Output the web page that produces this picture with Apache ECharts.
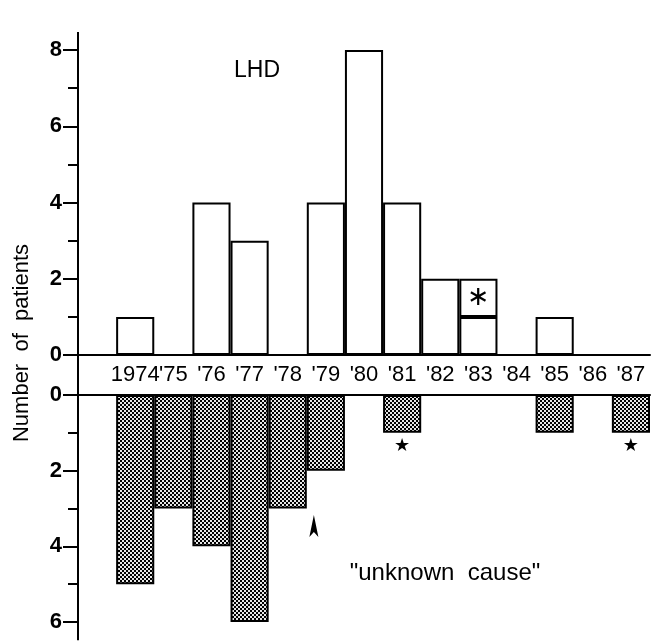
<!DOCTYPE html>
<html>
<head>
<meta charset="utf-8">
<script src="https://cdn.jsdelivr.net/npm/echarts@6/dist/echarts.min.js"></script>
<style>
html,body{margin:0;padding:0;background:#fff;}
#chart{width:651px;height:643px;}
</style>
</head>
<body>
<div id="chart"></div>
<script>
// years on the x axis (a blank slot sits before 1974 in the original)
var years = ['1974', "'75", "'76", "'77", "'78", "'79", "'80", "'81", "'82", "'83", "'84", "'85", "'86", "'87"];
// LHD cases (upper panel); the asterisk cases are stacked on top
var lhd = [1, 0, 4, 3, 0, 4, 8, 4, 2, 1, 0, 1, 0, 0];
var lhdAsterisk = [0, 0, 0, 0, 0, 0, 0, 0, 0, 1, 0, 0, 0, 0];
// "unknown cause" cases (lower panel, drawn downward)
var unknown = [5, 3, 4, 6, 3, 2, 0, 1, 0, 0, 0, 1, 0, 1];
var unknownStarred = ["'81", "'87"];
var upperTicks = [0, 8, 2];   // min, max, interval
var lowerTicks = [0, 6, 2];

var GRID_LEFT = 78;
var cats = [''].concat(years);

// checkered fill for the lower bars
var pat = document.createElement('canvas');
pat.width = 4; pat.height = 4;
var ctx = pat.getContext('2d');
ctx.fillStyle = '#e6e6e6'; ctx.fillRect(0, 0, 4, 4);
ctx.fillStyle = '#000'; ctx.fillRect(0, 0, 2, 2); ctx.fillRect(2, 2, 2, 2);

function yAxisOf(grid, t, inverse) {
    return {
        type: 'value', gridIndex: grid, min: t[0], max: t[1], interval: t[2], inverse: inverse,
        axisLine: {show: false},
        axisTick: {show: true, length: 15, lineStyle: {color: '#000', width: 2}},
        minorTick: {show: true, splitNumber: 2, length: 10, lineStyle: {color: '#000', width: 2}},
        splitLine: {show: false},
        axisLabel: {color: '#000', fontSize: 22, fontWeight: 'bold', fontFamily: 'Liberation Sans', margin: 16}
    };
}

var chart = echarts.init(document.getElementById('chart'));
var option = {
    animation: false,
    grid: [
        {left: GRID_LEFT, right: 1, top: 50, height: 305},
        {left: GRID_LEFT, right: 1, top: 395, height: 227}
    ],
    xAxis: [
        {type: 'category', gridIndex: 0, data: cats,
         axisLine: {lineStyle: {color: '#000', width: 2}}, axisTick: {show: false},
         axisLabel: {interval: 0, color: '#000', fontSize: 22, fontFamily: 'Liberation Sans', margin: 9}},
        {type: 'category', gridIndex: 1, data: cats, position: 'top',
         axisLine: {lineStyle: {color: '#000', width: 2}}, axisTick: {show: false}, axisLabel: {show: false}}
    ],
    yAxis: [yAxisOf(0, upperTicks, false), yAxisOf(1, lowerTicks, true)],
    series: [
        {
            type: 'bar', xAxisIndex: 0, yAxisIndex: 0, stack: 'lhd', barCategoryGap: '0%',
            data: [null].concat(lhd),
            itemStyle: {color: '#fff', borderColor: '#000', borderWidth: 2},
            markPoint: {
                silent: true, label: {show: false}, itemStyle: {color: '#000'},
                data: [{coord: ["'81", 8.76], symbol: 'path://M4,0 L7,0 L7,18 L11,18 L5.5,32 L0,18 L4,18 Z',
                        symbolSize: [11, 32], symbolOffset: [-8, 0]}]
            }
        },
        {
            type: 'bar', xAxisIndex: 0, yAxisIndex: 0, stack: 'lhd', barCategoryGap: '0%',
            data: [null].concat(lhdAsterisk.map(function (v) { return v ? v : '-'; })),
            itemStyle: {color: '#fff', borderColor: '#000', borderWidth: 2},
            label: {show: true, position: 'inside', formatter: '\u2217', fontSize: 27,
                    fontFamily: 'DejaVu Sans', color: '#000'}
        },
        {
            type: 'bar', xAxisIndex: 1, yAxisIndex: 1, barCategoryGap: '0%',
            data: [null].concat(unknown.map(function (v, i) {
                if (unknownStarred.indexOf(years[i]) >= 0) {
                    return {value: v, label: {show: true, position: 'bottom', distance: 4, formatter: '\u2605',
                            fontSize: 18, fontFamily: 'DejaVu Sans', color: '#000'}};
                }
                return v;
            })),
            itemStyle: {color: {image: pat, repeat: 'repeat'}, borderColor: '#000', borderWidth: 2},
            markPoint: {
                silent: true, label: {show: false}, itemStyle: {color: '#000'},
                data: [{coord: ["'79", 3.46], symbol: 'path://M4.5,0 L9,22 L4.5,17 L0,22 Z',
                        symbolSize: [9, 22], symbolOffset: [-12, 0]}]
            }
        }
    ]
};
chart.setOption(option);

// continuous vertical axis line through both panels and the year band
var yTop = chart.convertToPixel({yAxisIndex: 0}, 8.47);
var yBot = chart.convertToPixel({yAxisIndex: 1}, 6.48);
chart.setOption({
    graphic: [
        {type: 'line', shape: {x1: GRID_LEFT, y1: yTop, x2: GRID_LEFT, y2: yBot}, style: {stroke: '#000', lineWidth: 2}},
        {type: 'text', x: 257, y: 71, style: {text: 'LHD', fontSize: 23, fontFamily: 'Liberation Sans', fill: '#000', align: 'center', verticalAlign: 'middle'}},
        {type: 'text', x: 445, y: 573, style: {text: '"unknown  cause"', fontSize: 24, fontFamily: 'Liberation Sans', fill: '#000', align: 'center', verticalAlign: 'middle'}},
        {type: 'text', x: 22, y: 343, rotation: Math.PI / 2, style: {text: 'Number  of  patients', fontSize: 22, fontFamily: 'Liberation Sans', fill: '#000', align: 'center', verticalAlign: 'middle'}}
    ]
});
</script>
</body>
</html>
